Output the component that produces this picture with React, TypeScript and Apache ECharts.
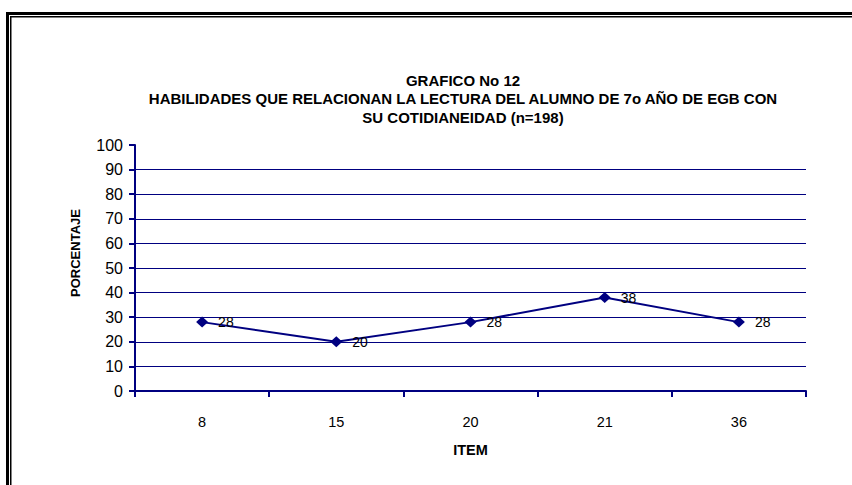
import React, { useEffect, useRef } from "react";
import * as echarts from "echarts";

const categories: string[] = ["8", "15", "20", "21", "36"];
const percentages: number[] = [28, 20, 28, 38, 28];
const titleLines: string[] = [
  "GRAFICO No 12",
  "HABILIDADES QUE RELACIONAN LA LECTURA DEL ALUMNO DE 7o AÑO DE EGB CON",
  "SU COTIDIANEIDAD (n=198)",
];
const yAxisName = "PORCENTAJE";
const xAxisName = "ITEM";

const NAVY = "#000080";
const FONT = "'Liberation Sans', Arial, Helvetica, sans-serif";

export default function App() {
  const ref = useRef<HTMLDivElement>(null);
  useEffect(() => {
    if (!ref.current) return;
    const chart = echarts.init(ref.current, undefined, { renderer: "svg" });
    chart.setOption({
      animation: false,
      backgroundColor: "#ffffff",
      title: {
        text: titleLines.join("\n"),
        left: 458,
        top: 66,
        textAlign: "center",
        textStyle: {
          fontFamily: FONT,
          fontSize: 15,
          fontWeight: "bold",
          color: "#000",
          lineHeight: 18.5,
        },
      },
      grid: { left: 135, right: 46, top: 145, bottom: 94, containLabel: false },
      xAxis: {
        type: "category",
        data: categories,
        boundaryGap: true,
        name: xAxisName,
        nameLocation: "middle",
        nameGap: 51,
        nameTextStyle: { fontFamily: FONT, fontSize: 14.5, fontWeight: "bold", color: "#000" },
        axisLine: { show: true, lineStyle: { color: NAVY, width: 2 } },
        axisTick: { show: true, inside: false, length: 6, lineStyle: { color: NAVY, width: 2 } },
        axisLabel: { fontFamily: FONT, fontSize: 14.5, color: "#000", margin: 23 },
        splitLine: { show: false },
      },
      yAxis: {
        type: "value",
        min: 0,
        max: 100,
        interval: 10,
        axisLine: { show: true, lineStyle: { color: NAVY, width: 2 } },
        axisTick: { show: true, inside: false, length: 6, lineStyle: { color: NAVY, width: 2 } },
        axisLabel: { fontFamily: FONT, fontSize: 16, color: "#000", margin: 12 },
        splitLine: {
          show: true,
          showMaxLine: false,
          lineStyle: { color: NAVY, width: 1 },
        },
      },
      graphic: [
        {
          type: "text",
          x: 75,
          y: 253,
          rotation: Math.PI / 2,
          style: {
            text: yAxisName,
            fontFamily: FONT,
            fontSize: 13,
            fontWeight: "bold",
            fill: "#000",
            align: "center",
            verticalAlign: "middle",
          },
        },
        { type: "line", shape: { x1: 7.5, y1: 12, x2: 7.5, y2: 490 }, style: { stroke: "#000", lineWidth: 3 } },
        { type: "line", shape: { x1: 6, y1: 13.5, x2: 860, y2: 13.5 }, style: { stroke: "#000", lineWidth: 3 } },
        { type: "line", shape: { x1: 10.75, y1: 16, x2: 10.75, y2: 490 }, style: { stroke: "#000", lineWidth: 1.5 } },
        { type: "line", shape: { x1: 10, y1: 16.75, x2: 860, y2: 16.75 }, style: { stroke: "#000", lineWidth: 1.5 } },
      ],
      series: [
        {
          type: "line",
          data: percentages,
          symbol: "diamond",
          symbolSize: [12, 11],
          lineStyle: { color: NAVY, width: 2 },
          itemStyle: { color: NAVY },
          label: {
            show: true,
            position: "right",
            distance: 10,
            fontFamily: FONT,
            fontSize: 14,
            color: "#000",
          },
        },
      ],
    });
    return () => chart.dispose();
  }, []);
  return (
    <div
      ref={ref}
      style={{ position: "fixed", left: 0, top: 0, width: 852, height: 485, background: "#fff" }}
    />
  );
}
